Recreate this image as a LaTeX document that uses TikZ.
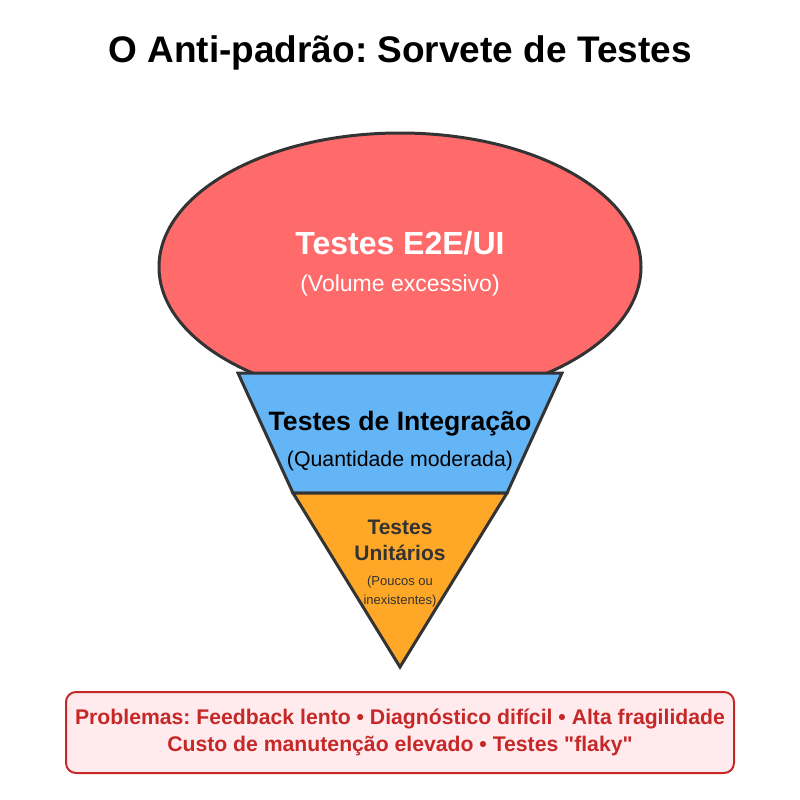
\documentclass[tikz,border=0pt]{standalone}
\usepackage{fontspec}
\setmainfont{Liberation Sans}
\frenchspacing
\usetikzlibrary{shapes.geometric}
\usetikzlibrary{positioning}
\definecolor{scoop-red}{RGB}{255, 107, 107}
\definecolor{cone-blue}{RGB}{100, 181, 246}
\definecolor{cone-orange}{RGB}{255, 167, 38}
\definecolor{edge-grey}{RGB}{51, 51, 51}
\definecolor{warn-red}{RGB}{198, 40, 40}
\definecolor{warn-pink}{RGB}{255, 235, 238}
\font\quotefont="Liberation Sans/B" at 21.2pt
\newcommand{\straightq}{{\quotefont\char34}}
\tikzset{
  label-text/.style={align=center, inner sep=0pt},
}
\begin{document}
\begin{tikzpicture}[x=1pt, y=-1pt]
\useasboundingbox (0,0) rectangle (800,800);
\node[label-text, font=\fontsize{37}{44}\selectfont\bfseries] (title) at (400,53) {O Anti-padrão: Sorvete de Testes};
% sorvete
\node[ellipse, draw=edge-grey, fill=scoop-red, line width=3pt, minimum width=482pt, minimum height=268pt, inner sep=0pt] (scoop) at (400,267) {};
\filldraw[fill=cone-blue, draw=edge-grey, line width=3pt] (238,373) -- (562,373) -- (507,493) -- (293,493) -- cycle;
\filldraw[fill=cone-orange, draw=edge-grey, line width=3pt] (293,493) -- (507,493) -- (400,667) -- cycle;
\node[label-text, white, font=\fontsize{32}{36}\selectfont\bfseries] (e2e) at (400,243) {Testes E2E/UI};
\node[label-text, white, font=\fontsize{23}{28}\selectfont] (e2e-note) at (400,286) {(Volume excessivo)};
\node[label-text, font=\fontsize{26.6}{30}\selectfont\bfseries] (integ) at (400,424) {Testes de Integração};
\node[label-text, font=\fontsize{21.3}{26}\selectfont] (integ-note) at (400,461) {(Quantidade moderada)};
\node[label-text, edge-grey, font=\fontsize{21}{26}\selectfont\bfseries] (unit) at (400,540) {Testes\\Unitários};
\node[label-text, edge-grey, font=\fontsize{13}{19}\selectfont] (unit-note) at (400,592) {(Poucos ou\\inexistentes)};
% problemas
\node[draw=warn-red, fill=warn-pink, line width=2pt, rounded corners=10pt, minimum width=668pt, minimum height=81pt, align=center, text=warn-red, font=\fontsize{21.2}{27}\selectfont\bfseries] (problems) at (400,732.5) {Problemas: Feedback lento • Diagnóstico difícil • Alta fragilidade\\Custo de manutenção elevado • Testes \straightq flaky\straightq};
\end{tikzpicture}
\end{document}
